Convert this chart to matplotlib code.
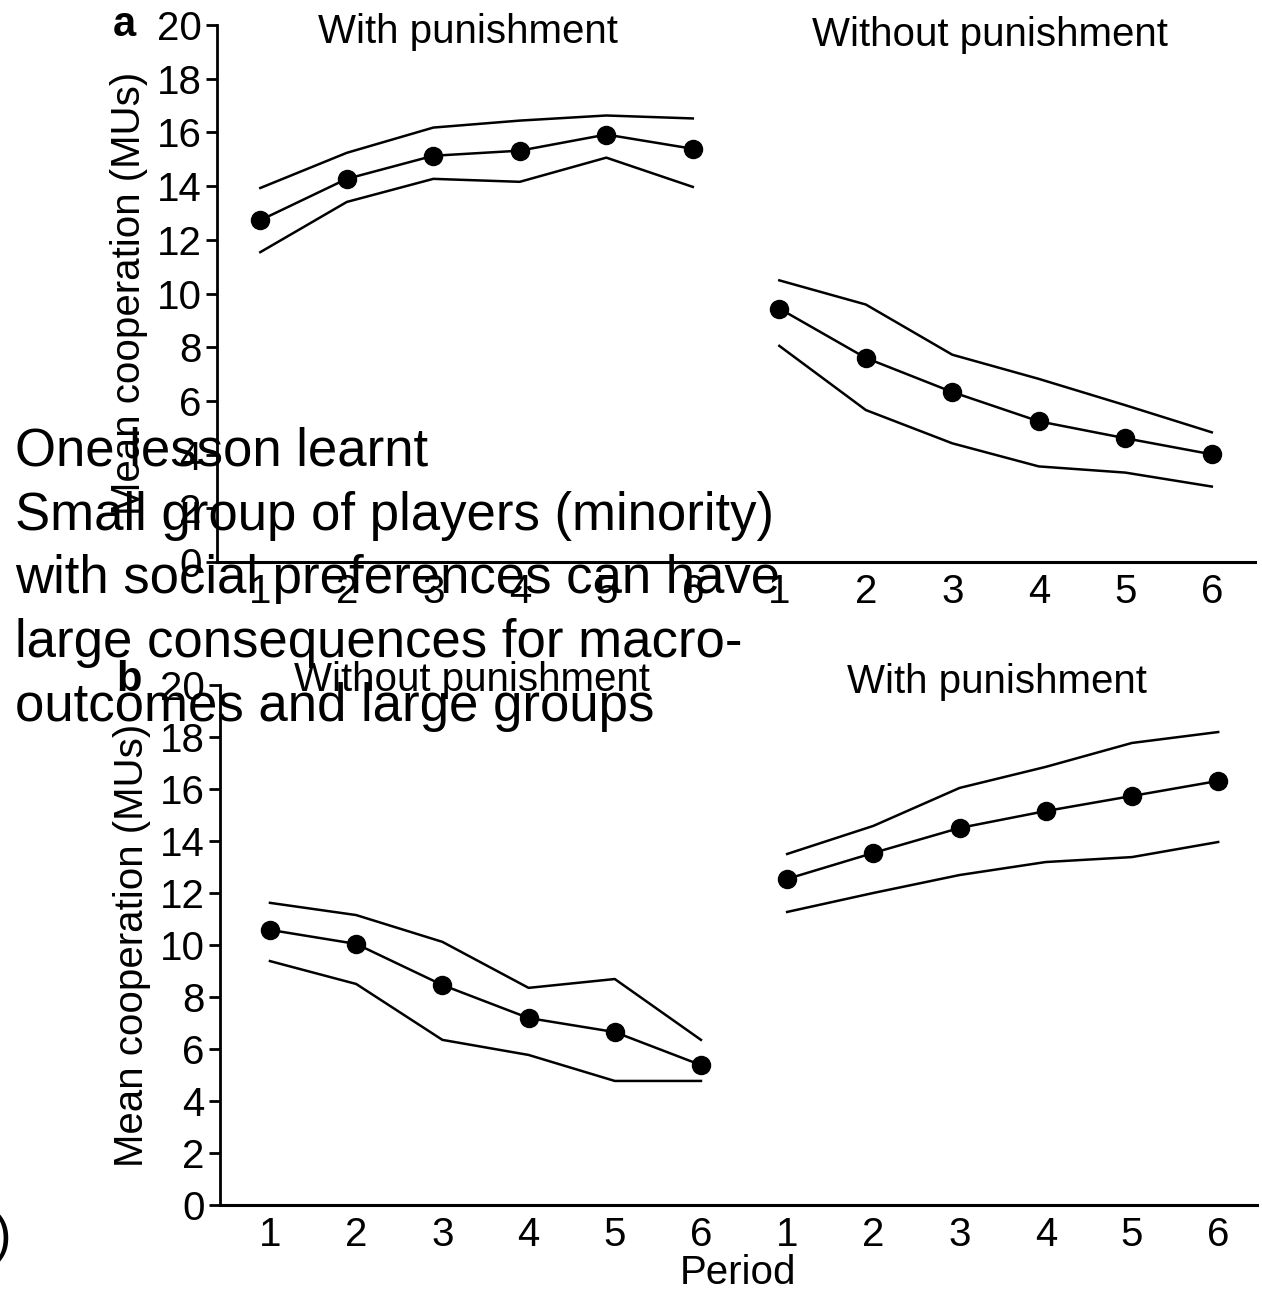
import matplotlib.pyplot as plt

plt.rcParams['font.family'] = ['Liberation Sans', 'DejaVu Sans']

periods = [1, 2, 3, 4, 5, 6]
tick_labels = ['1', '2', '3', '4', '5', '6'] * 2

# Panel a: with punishment (periods 1-6), then without punishment
a_with_mean = [12.73, 14.27, 15.13, 15.32, 15.92, 15.39]
a_with_upper = [13.93, 15.24, 16.18, 16.44, 16.63, 16.52]
a_with_lower = [11.54, 13.41, 14.27, 14.16, 15.06, 13.97]
a_without_mean = [9.44, 7.60, 6.33, 5.24, 4.61, 4.01]
a_without_upper = [10.49, 9.59, 7.72, 6.82, 5.84, 4.83]
a_without_lower = [8.05, 5.66, 4.42, 3.56, 3.33, 2.81]

# Panel b: without punishment first, then with punishment
b_without_mean = [10.58, 10.04, 8.46, 7.19, 6.65, 5.38]
b_without_upper = [11.62, 11.15, 10.12, 8.35, 8.69, 6.35]
b_without_lower = [9.38, 8.50, 6.35, 5.77, 4.77, 4.77]
b_with_mean = [12.54, 13.54, 14.50, 15.15, 15.73, 16.31]
b_with_upper = [13.50, 14.58, 16.04, 16.85, 17.77, 18.19]
b_with_lower = [11.27, 12.00, 12.69, 13.19, 13.38, 13.96]

fig = plt.figure(figsize=(12.62, 12.89), dpi=100)
ax_a = fig.add_axes([0.172, 0.564, 0.8225, 0.4166])
ax_b = fig.add_axes([0.1743, 0.0652, 0.8217, 0.4034])

def segment(ax, xs, mean, upper, lower):
    ax.plot(xs, upper, color='black', lw=1.8)
    ax.plot(xs, lower, color='black', lw=1.8)
    ax.plot(xs, mean, color='black', lw=1.8, marker='o', markersize=13)

first = periods
second = [p + 6 for p in periods]

segment(ax_a, first, a_with_mean, a_with_upper, a_with_lower)
segment(ax_a, second, a_without_mean, a_without_upper, a_without_lower)
segment(ax_b, first, b_without_mean, b_without_upper, b_without_lower)
segment(ax_b, second, b_with_mean, b_with_upper, b_with_lower)

for ax, xl in [(ax_a, (0.5, 12.5)), (ax_b, (0.42, 12.45))]:
    ax.set_xlim(*xl)
    ax.set_ylim(0, 20)
    ax.set_yticks(range(0, 21, 2))
    ax.set_xticks(range(1, 13))
    ax.set_xticklabels(tick_labels)
    ax.spines['top'].set_visible(False)
    ax.spines['right'].set_visible(False)
    ax.spines['left'].set_linewidth(2)
    ax.spines['bottom'].set_linewidth(2.2)
    ax.tick_params(axis='y', length=8, width=2, labelsize=29, pad=3)
    ax.tick_params(axis='x', length=0, labelsize=29, pad=8)
    ax.set_ylabel('Mean cooperation (MUs)', fontsize=29, labelpad=6)

ax_b.set_xlabel('Period', fontsize=29, labelpad=0)

fig.text(468 / 1262, 1 - 32 / 1289, 'With punishment', fontsize=29, ha='center', va='center')
fig.text(990 / 1262, 1 - 35 / 1289, 'Without punishment', fontsize=29, ha='center', va='center')
fig.text(472 / 1262, 1 - 680 / 1289, 'Without punishment', fontsize=29, ha='center', va='center')
fig.text(997 / 1262, 1 - 682 / 1289, 'With punishment', fontsize=29, ha='center', va='center')
fig.text(124 / 1262, 1 - 25 / 1289, 'a', fontsize=30, fontweight='bold', ha='center', va='center')
fig.text(129 / 1262, 1 - 680 / 1289, 'b', fontsize=30, fontweight='bold', ha='center', va='center')

fig.text(15 / 1262, 1 - 427 / 1289,
         'One lesson learnt\nSmall group of players (minority)\nwith social preferences can have\n'
         'large consequences for macro-\noutcomes and large groups',
         fontsize=38, ha='left', va='top', linespacing=1.35)
fig.text(-6 / 1262, 1 - 1238 / 1289, ')', fontsize=38, ha='left', va='center')

fig.savefig('out.png', dpi=100)
